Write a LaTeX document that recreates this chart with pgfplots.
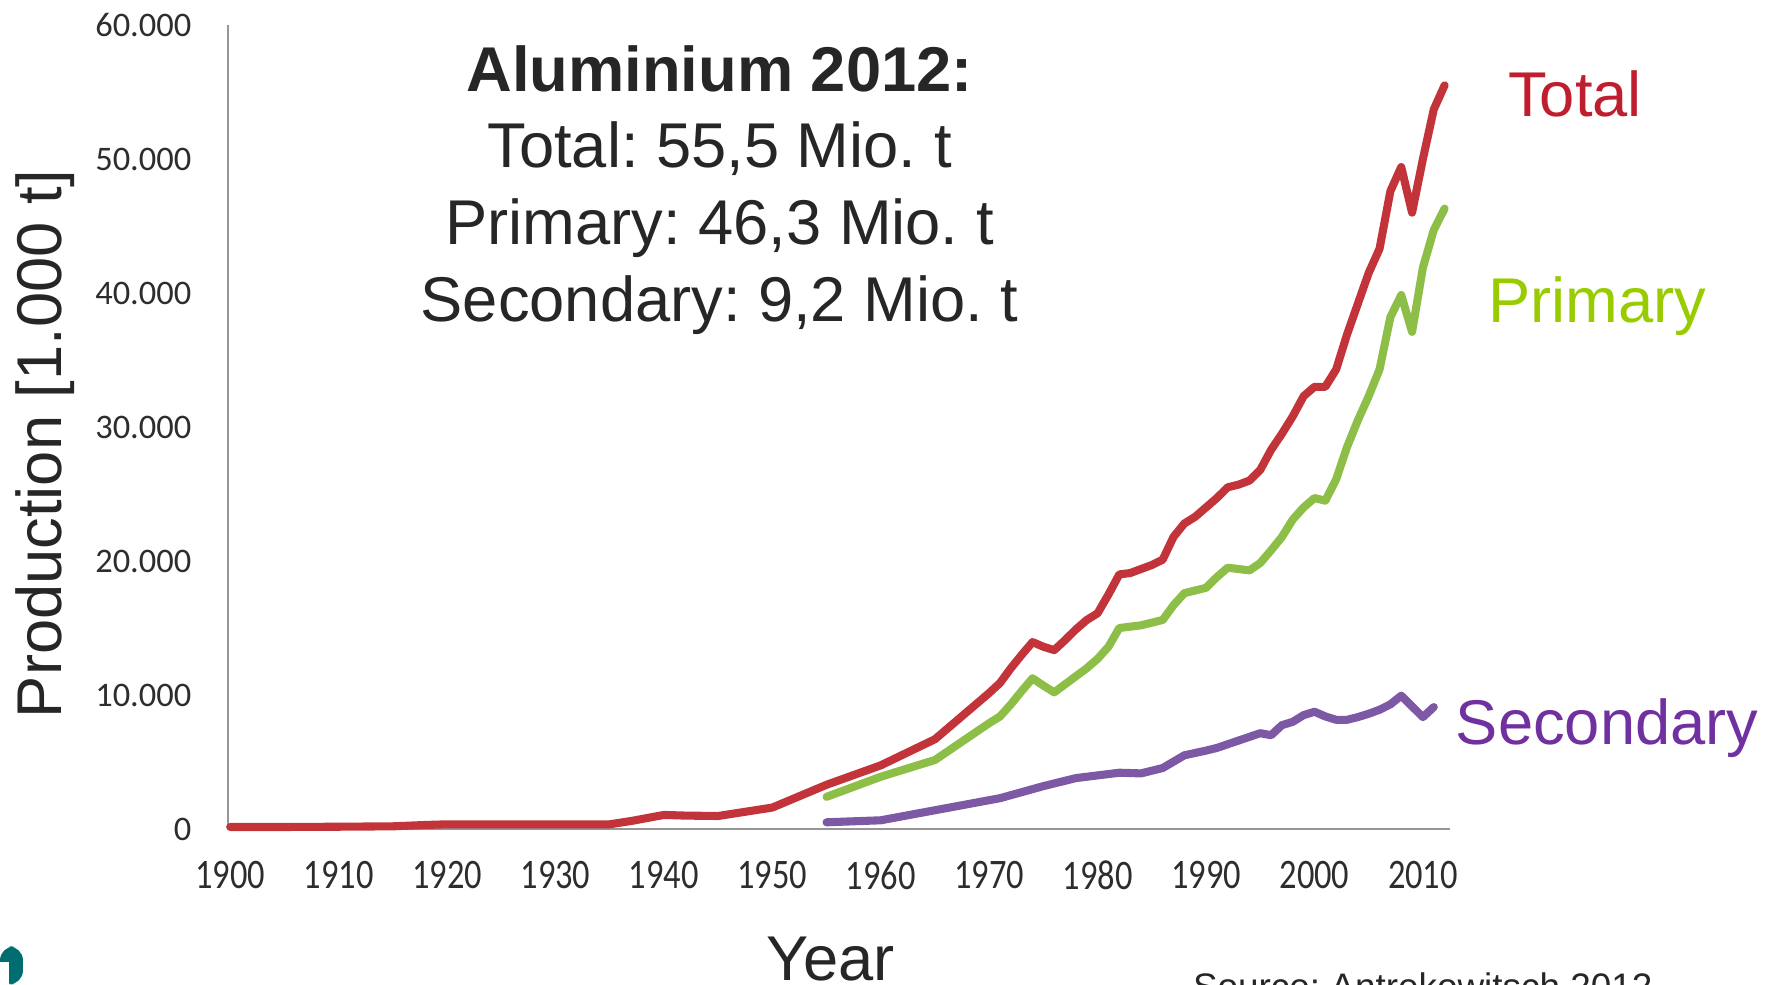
\documentclass[border=0pt]{standalone}
\usepackage{pgfplots}
\pgfplotsset{compat=1.18}
\usepackage{fontspec}
\setmainfont{Liberation Sans}
\newfontfamily\carlito{Carlito}
\definecolor{totline}{RGB}{195,52,58}
\definecolor{totlab}{RGB}{190,30,45}
\definecolor{primline}{RGB}{141,190,72}
\definecolor{primlab}{RGB}{153,204,0}
\definecolor{secline}{RGB}{125,88,165}
\definecolor{seclab}{RGB}{112,48,160}
\definecolor{txt}{RGB}{38,38,38}
\definecolor{tickgray}{RGB}{45,45,45}
\definecolor{axisgray}{RGB}{150,150,150}
\definecolor{logoteal}{RGB}{0,110,112}
\newcommand\txtfont{\fontsize{18}{21.6}\selectfont}
\newcommand\tickfont{\carlito\fontsize{9.8}{11}\selectfont}
\frenchspacing
\begin{document}
\begin{tikzpicture}
\begin{axis}[
  at={(0,0)}, anchor=south west,
  scale only axis, width=12.22cm, height=8.04cm,
  xmin=1899.8, xmax=2012.5, ymin=0, ymax=60000,
  axis x line=bottom, axis y line=left,
  axis line style={-, draw=axisgray, line width=0.5pt},
  major tick length=0pt,
  scaled y ticks=false, scaled x ticks=false,
  xtick={1900,1910,...,2010},
  xticklabels={1900,1910,1920,1930,1940,1950,1960,1970,1980,1990,2000,2010},
  ytick={0,10000,...,60000},
  yticklabels={0,10.000,20.000,30.000,40.000,50.000,60.000},
  xticklabel style={font=\tickfont, text=tickgray, anchor=north, inner sep=0pt, yshift=-3.1mm, yscale=1.22},
  yticklabel style={font=\tickfont, text=tickgray, anchor=east, inner sep=0pt, xshift=-3.6mm},
  clip=false,
  every axis plot/.append style={line width=2.3pt, line join=round, line cap=round, mark=none},
]
\addplot[totline] coordinates {
(1900,150)(1905,150)(1910,170)(1915,200)(1918,300)(1920,350)(1925,350)(1930,350)(1935,350)
(1937,600)(1940,1050)(1942,1000)(1945,970)(1950,1600)(1955,3300)(1960,4750)(1965,6700)
(1970,10150)(1971,10900)(1972,12000)(1973,13000)(1974,13950)(1975,13600)(1976,13350)
(1977,14100)(1978,14900)(1979,15600)(1980,16100)(1981,17500)(1982,19000)(1983,19100)
(1984,19400)(1985,19700)(1986,20100)(1987,21800)(1988,22800)(1989,23300)(1990,24000)
(1991,24700)(1992,25500)(1993,25700)(1994,26000)(1995,26800)(1996,28300)(1997,29500)
(1998,30800)(1999,32300)(2000,33000)(2001,33000)(2002,34300)(2003,36900)(2004,39200)
(2005,41500)(2006,43300)(2007,47600)(2008,49400)(2009,46000)(2010,50000)(2011,53700)(2012,55500)
};
\addplot[primline] coordinates {
(1955,2400)(1960,3900)(1965,5150)(1970,7900)(1971,8400)(1972,9300)(1973,10300)(1974,11250)
(1975,10700)(1976,10200)(1977,10800)(1978,11400)(1979,12000)(1980,12700)(1981,13600)
(1982,15000)(1983,15100)(1984,15200)(1985,15400)(1986,15600)(1987,16700)(1988,17600)
(1989,17800)(1990,18000)(1991,18800)(1992,19500)(1993,19400)(1994,19300)(1995,19850)
(1996,20800)(1997,21800)(1998,23100)(1999,24000)(2000,24700)(2001,24500)(2002,26100)
(2003,28500)(2004,30500)(2005,32300)(2006,34300)(2007,38200)(2008,39850)(2009,37100)
(2010,41900)(2011,44700)(2012,46300)
};
\addplot[secline] coordinates {
(1955,500)(1960,650)(1965,1400)(1970,2150)(1971,2300)(1975,3200)(1976,3400)(1978,3800)
(1980,4000)(1982,4200)(1984,4150)(1986,4550)(1988,5500)(1990,5850)(1991,6050)(1993,6600)
(1995,7150)(1996,7000)(1997,7750)(1998,8000)(1999,8500)(2000,8750)(2001,8400)(2002,8150)
(2003,8150)(2004,8350)(2005,8600)(2006,8900)(2007,9300)(2008,9950)(2009,9150)(2010,8350)(2011,9100)
};
\end{axis}
\begin{scope}[x=0.01cm,y=-0.01cm,shift={(-2.28cm,8.29cm)}]
\node[anchor=base, rotate=90, inner sep=0pt, text=txt, font=\txtfont] at (62,444) {Production [1.000 t]};
\node[anchor=base, inner sep=0pt, text=txt, font=\txtfont] at (831,981) {Year};
\node[anchor=base, inner sep=0pt, text=txt, font=\txtfont\bfseries] at (720,92) {Aluminium 2012:};
\node[anchor=base, inner sep=0pt, text=txt, font=\txtfont] at (720,168) {Total: 55,5 Mio. t};
\node[anchor=base, inner sep=0pt, text=txt, font=\txtfont] at (720,245) {Primary: 46,3 Mio. t};
\node[anchor=base, inner sep=0pt, text=txt, font=\txtfont] at (720,322) {Secondary: 9,2 Mio. t};
\node[anchor=base, inner sep=0pt, text=totlab, font=\txtfont] at (1576,117) {Total};
\node[anchor=base, inner sep=0pt, text=primlab, font=\txtfont] at (1598,323) {Primary};
\node[anchor=base, inner sep=0pt, text=seclab, font=\txtfont] at (1608,745) {Secondary};
\node[anchor=base west, inner sep=0pt, text=txt, font=\fontsize{10.5}{12}\selectfont] at (1193,1000) {Source: Antrekowitsch 2012};
\fill[logoteal, rounded corners=4] (0,985) -- (0,947) -- (23,947) -- (23,985) -- cycle;
\fill[white] (0,963) rectangle (8.6,985);
\end{scope}
\pgfresetboundingbox
\path[use as bounding box] (-2.28cm,-1.56cm) rectangle (15.48cm,8.29cm);
\end{tikzpicture}
\end{document}
